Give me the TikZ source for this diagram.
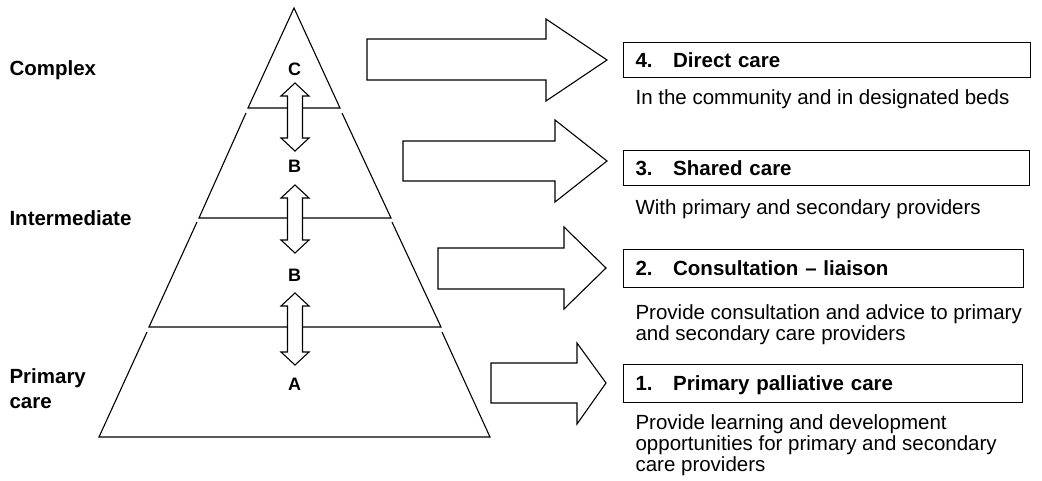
\documentclass[tikz,border=0pt]{standalone}
\usepackage{fontspec}
\setmainfont{Liberation Sans}
\begin{document}
\begin{tikzpicture}[x=1pt, y=-1pt, line width=1.1pt,
    level/.style={font=\bfseries\fontsize{20.5}{25}\selectfont, anchor=base west, inner sep=0pt, align=left},
    tier/.style={font=\bfseries\fontsize{18}{20}\selectfont, anchor=base, inner sep=0pt},
    titlebox/.style={draw, anchor=north west, font=\bfseries\fontsize{20.5}{24}\selectfont,
        inner xsep=12pt, inner ysep=0pt, text height=14.5pt, text depth=0pt, align=left, text width=#1},
    desc/.style={font=\fontsize{20.5}{21}\selectfont, anchor=base west, inner sep=0pt, align=left}]
    \useasboundingbox (0,0) rectangle (1042,480);
    % Pyramid
    \draw (248,108) -- (294,8) -- (340,108) -- cycle;
    \draw (246,113) -- (199,218) -- (391,218) -- (342,113);
    \draw (197,222) -- (149,327) -- (441,327) -- (392,222);
    \draw (147,332) -- (99,437) -- (490,437) -- (442,332);
    % Levels (multi-line nodes sit on their last line)
    \node[level] (complex) at (9,75) {Complex};
    \node[level] (intermediate) at (9,225) {Intermediate};
    \node[level] (primary) at (9,408) {Primary\\care};
    \node[tier] (tierC) at (294.5,75) {C};
    \node[tier] (tierB1) at (294.5,172) {B};
    \node[tier] (tierB2) at (294.5,281) {B};
    \node[tier] (tierA) at (294.5,390) {A};
    % Double arrows
    \draw[fill=white]
       (295,83) -- (309,96) -- (302.5,96) -- (302.5,138) -- (309,138)
    -- (295,151) -- (281,138) -- (287.5,138) -- (287.5,96) -- (281,96) -- cycle;
    \draw[fill=white]
       (295,185) -- (309,198) -- (302.5,198) -- (302.5,240) -- (309,240)
    -- (295,253) -- (281,240) -- (287.5,240) -- (287.5,198) -- (281,198) -- cycle;
    \draw[fill=white]
       (295,293) -- (309,306) -- (302.5,306) -- (302.5,352) -- (309,352)
    -- (295,365) -- (281,352) -- (287.5,352) -- (287.5,306) -- (281,306) -- cycle;
    % Block arrows
    \draw (367,39) -- (546,39) -- (546,19) -- (607,60) -- (546,101) -- (546,80) -- (367,80) -- cycle;
    \draw (403,141) -- (555,141) -- (555,120) -- (607,161) -- (555,202) -- (555,181) -- (403,181) -- cycle;
    \draw (438,248) -- (564,248) -- (564,227) -- (606,268) -- (564,309) -- (564,289) -- (438,289) -- cycle;
    \draw (491,363) -- (577,363) -- (577,343) -- (606,383) -- (577,424) -- (577,403) -- (491,403) -- cycle;
    % Care boxes
    \node[titlebox=383pt, minimum height=35pt] (box4) at (623,42) {4.\quad Direct care};
    \node[titlebox=382pt, minimum height=35pt] (box3) at (623,150) {3.\quad Shared care};
    \node[titlebox=376pt, minimum height=38pt] (box2) at (623,249) {2.\quad Consultation – liaison};
    \node[titlebox=375pt, minimum height=38pt] (box1) at (623,364) {1.\quad Primary palliative care};
    \node[desc] (desc4) at (635,104) {In the community and in designated beds};
    \node[desc] (desc3) at (635,214) {With primary and secondary providers};
    \node[desc] (desc2) at (635,340) {Provide consultation and advice to primary\\and secondary care providers};
    \node[desc] (desc1) at (635,471) {Provide learning and development\\opportunities for primary and secondary\\care providers};
\end{tikzpicture}
\end{document}
